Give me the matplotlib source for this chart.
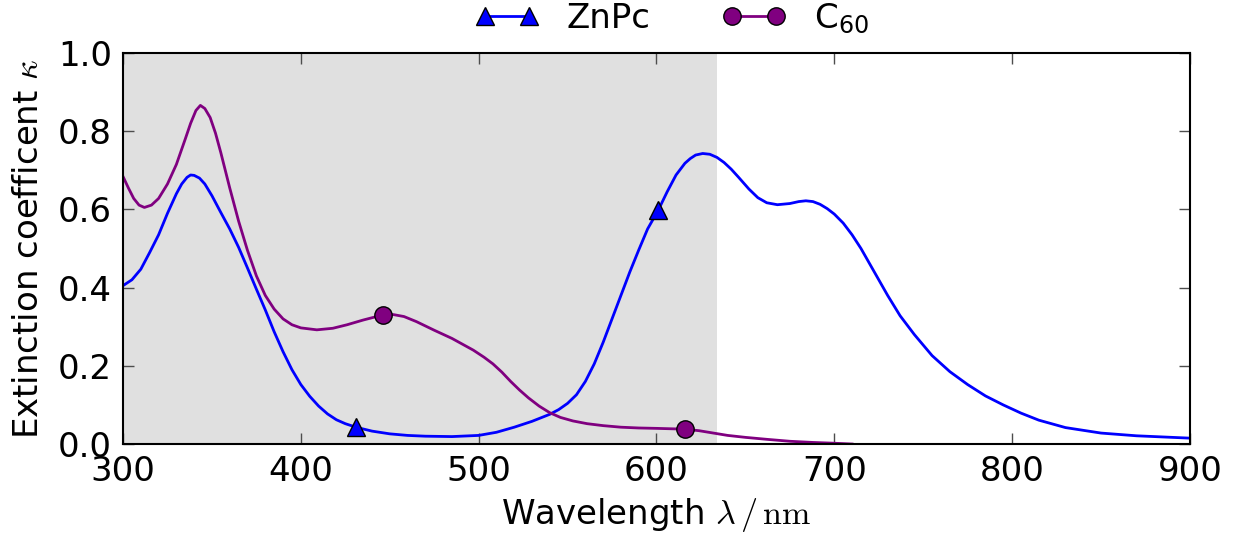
import matplotlib
matplotlib.use("Agg")
import matplotlib.pyplot as plt
from matplotlib.font_manager import FontProperties

# Extinction coefficient (wavelength in nm)
zn_wl = [300, 305, 310, 315, 320, 325, 330, 333, 336, 338, 340, 343, 346, 350, 355, 360, 365,
         370, 375, 380, 385, 390, 395, 400, 405, 410, 415, 420, 425, 431, 440, 450,
         460, 470, 485, 500, 510, 520, 530, 540, 545, 550, 555, 560, 565, 570, 575, 580,
         585, 590, 595, 601, 606, 611, 616, 619, 622, 626, 630, 634, 638, 642, 646, 652, 657,
         662, 668, 675, 680, 684, 688, 692, 696, 700, 705, 710, 715, 720, 725, 730, 737, 745,
         755, 765, 775, 785, 795, 805, 815, 830, 850, 870, 885, 900]
zn_k = [0.405, 0.42, 0.447, 0.49, 0.535, 0.59, 0.64, 0.665, 0.682, 0.688, 0.687, 0.68, 0.665, 0.635, 0.592, 0.55, 0.503,
        0.45, 0.396, 0.343, 0.287, 0.236, 0.19, 0.152, 0.122, 0.097, 0.077, 0.062, 0.052, 0.043, 0.033, 0.026,
        0.022, 0.020, 0.019, 0.022, 0.030, 0.043, 0.058, 0.076, 0.088, 0.104, 0.126, 0.160, 0.205, 0.260, 0.32, 0.38,
        0.44, 0.496, 0.55, 0.598, 0.645, 0.688, 0.718, 0.73, 0.739, 0.743, 0.741, 0.733, 0.72, 0.703, 0.683, 0.652, 0.63,
        0.617, 0.612, 0.615, 0.620, 0.622, 0.620, 0.613, 0.602, 0.588, 0.565, 0.535, 0.50, 0.46, 0.42, 0.38, 0.328, 0.28,
        0.226, 0.185, 0.152, 0.123, 0.10, 0.079, 0.061, 0.042, 0.028, 0.021, 0.018, 0.015]
zn_marks = [431, 601]

c60_wl = [300, 303, 306, 309, 312, 316, 320, 325, 330, 335, 338, 341, 343.5, 346, 349, 352,
          355, 360, 365, 370, 375, 380, 385, 390, 395, 400, 409, 418, 426, 435, 446,
          452, 458, 465, 475, 485, 497, 503, 508, 513, 518, 523, 528, 534, 540, 546, 553,
          561, 570, 580, 590, 600, 608, 616, 624, 632, 640, 650, 662, 675, 688, 700, 710]
c60_k = [0.684, 0.655, 0.628, 0.611, 0.605, 0.611, 0.628, 0.665, 0.715, 0.78, 0.82, 0.853, 0.866, 0.858, 0.835, 0.795,
         0.745, 0.655, 0.57, 0.495, 0.43, 0.38, 0.345, 0.32, 0.305, 0.297, 0.292, 0.296, 0.305, 0.317, 0.33,
         0.331, 0.326, 0.313, 0.291, 0.27, 0.24, 0.222, 0.205, 0.184, 0.16, 0.138, 0.118, 0.097, 0.08, 0.068, 0.059,
         0.052, 0.047, 0.043, 0.041, 0.04, 0.039, 0.038, 0.034, 0.028, 0.022, 0.017, 0.012, 0.007, 0.004, 0.002, 0.0]
c60_marks = [446, 616]

shade_range = [300, 634]

plt.rcParams['font.family'] = ['DejaVu Sans']
plt.rcParams['mathtext.fontset'] = 'cm'
plt.rcParams['font.size'] = 24.5

fig = plt.figure(figsize=(12.34, 5.38), dpi=100)
ax = fig.add_axes([0.0997, 0.1747, 0.8646, 0.7268])

ax.axvspan(shade_range[0], shade_range[1], color='#e0e0e0', lw=0, zorder=0)

ax.plot(zn_wl, zn_k, color='blue', lw=2, marker='^', markersize=13,
        markeredgecolor='black', markeredgewidth=1,
        markevery=[zn_wl.index(w) for w in zn_marks], label='ZnPc')
ax.plot(c60_wl, c60_k, color='purple', lw=2, marker='o', markersize=12.5,
        markeredgecolor='black', markeredgewidth=1,
        markevery=[c60_wl.index(w) for w in c60_marks], label='C$_{60}$')

ax.set_xlim(300, 900)
ax.set_ylim(0, 1.0)
ax.set_xticks([300, 400, 500, 600, 700, 800, 900])
ax.set_yticks([0.0, 0.2, 0.4, 0.6, 0.8, 1.0])
ax.tick_params(direction='in', top=True, right=True, length=8, width=1,
               color='0.3', pad=8, labelsize=24.5)
for s in ax.spines.values():
    s.set_linewidth(1.5)

ax.set_xlabel(r'Wavelength $\lambda\,/\,\mathrm{nm}$', fontsize=24.5, labelpad=6)
ax.set_ylabel(r'Extinction coefficent $\kappa$', fontsize=24.5, labelpad=9)

leg = ax.legend(loc='lower center', bbox_to_anchor=(0.514, 0.965), ncol=2,
                frameon=False, numpoints=2, handlelength=1.9, columnspacing=2.1,
                handletextpad=0.8,
                prop=FontProperties(size=24.5, math_fontfamily='dejavusans'))

fig.savefig('out.png', dpi=100)
